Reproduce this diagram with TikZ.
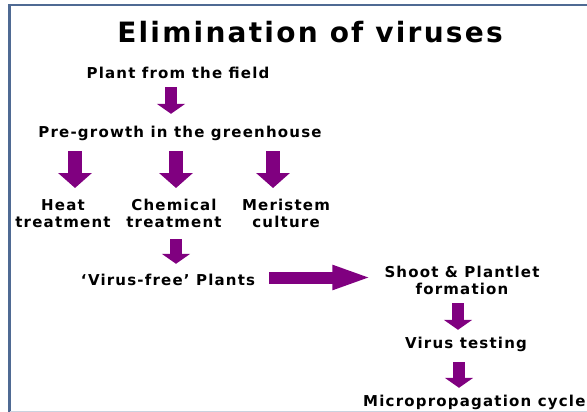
\documentclass[tikz,border=0pt]{standalone}
\usepackage{fontspec}
\setmainfont{DejaVu Sans}[LetterSpace=8]
\usetikzlibrary{arrows.meta,calc}
\definecolor{framecol}{HTML}{4F6A93}
\definecolor{arrowpurple}{HTML}{800080}
\tikzset{
    txt/.style={font=\bfseries\fontsize{15}{17}\selectfont,inner sep=0pt,align=center},
    oneline/.style={txt,text height=11pt,text depth=3pt},
    smallarr/.style={draw=arrowpurple,line width=12pt,-{Triangle[length=10pt,width=28pt]}},
    bigarr/.style={draw=arrowpurple,line width=14pt,-{Triangle[length=15pt,width=33pt]}},
    sidearr/.style={draw=arrowpurple,line width=12pt,-{Triangle[length=40pt,width=22pt]}}
}

\begin{document}
\begin{tikzpicture}[x=1pt,y=-1pt]
\useasboundingbox (0,0) rectangle (587,412);

% Frame
\draw[framecol,line width=2.5pt] (9.5,412) -- (9.5,5) -- (587,5);
\draw[framecol!30,line width=1pt] (10,411) -- (587,411);

% Title
\node[font=\bfseries\fontsize{28}{32}\selectfont,inner sep=0pt] (title) at (310,32) {Elimination of viruses};

% Steps
\node[oneline,anchor=base] (plant) at (178,79) {Plant from the field};
\node[oneline,anchor=base] (pregrowth) at (180,138) {Pre-growth in the greenhouse};
\node[txt,anchor=north] (heat) at (63,199) {Heat\\treatment};
\node[txt,anchor=north] (chem) at (174,199) {Chemical\\treatment};
\node[txt,anchor=north] (meri) at (286,199) {Meristem\\culture};
\node[oneline,anchor=base] (vfree) at (168,285) {‘Virus-free’ Plants};
\node[txt,anchor=north] (shoot) at (462,266) {Shoot \& Plantlet\\formation};
\node[oneline,anchor=base] (vtest) at (466,348) {Virus testing};
\node[oneline,anchor=base west] (micro) at (363,406) {Micropropagation cycle};

% Arrows
\draw[smallarr,shorten <=5pt,shorten >=13pt] ($(plant.south)+(-7,0)$) -- ($(pregrowth.north -| plant.south)+(-7,0)$);
\draw[bigarr,shorten <=10pt,shorten >=11pt] ($(pregrowth.south -| heat.north)+(12,0)$) -- ($(heat.north)+(12,0)$);
\draw[bigarr,shorten <=10pt,shorten >=11pt] ($(pregrowth.south -| chem.north)+(2,0)$) -- ($(chem.north)+(2,0)$);
\draw[bigarr,shorten <=10pt,shorten >=11pt] ($(pregrowth.south -| meri.north)+(-13,0)$) -- ($(meri.north)+(-13,0)$);
\draw[smallarr,shorten <=11pt,shorten >=10pt] ($(chem.south)+(2,0)$) -- ($(vfree.north -| chem.south)+(2,0)$);
\draw[sidearr,shorten <=14pt,shorten >=12pt] ($(vfree.east)+(0,-3.5)$) -- ($(shoot.west |- vfree.east)+(0,-3.5)$);
\draw[smallarr,shorten <=8pt,shorten >=7pt] ($(shoot.south)+(-4,0)$) -- ($(vtest.north -| shoot.south)+(-4,0)$);
\draw[smallarr,shorten <=11pt,shorten >=7pt] ($(vtest.south)+(-7,0)$) -- ($(micro.north -| vtest.south)+(-7,0)$);

\end{tikzpicture}
\end{document}
